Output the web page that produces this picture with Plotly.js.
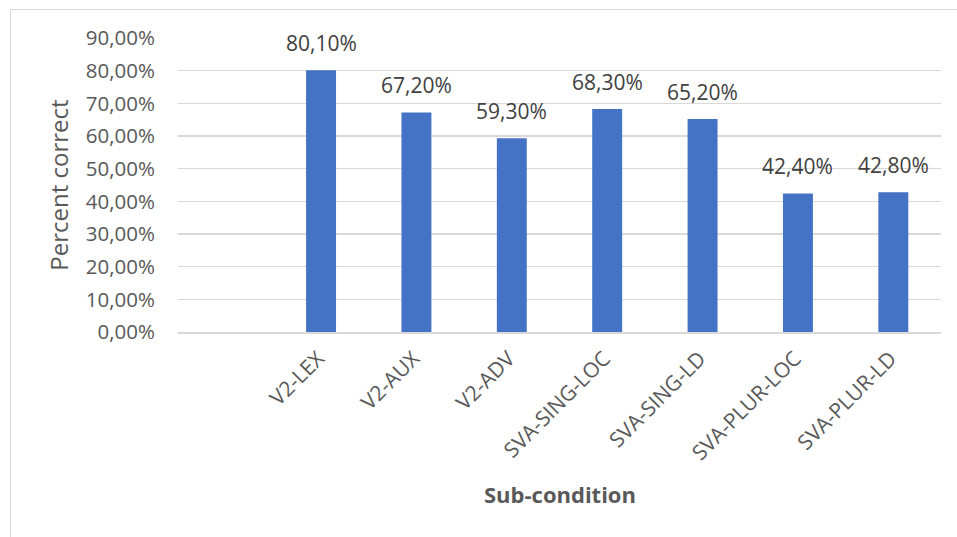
<!DOCTYPE html>
<html>
<head>
<meta charset="utf-8">
<script src="https://cdn.plot.ly/plotly-3.0.1.min.js"></script>
<style>
html,body{margin:0;padding:0;background:#fff;overflow:hidden;}
#frame{position:absolute;left:10px;top:9px;width:980px;height:560px;border:1.5px solid #d9d9d9;}
#chart{position:absolute;left:0;top:0;width:957px;height:537px;}
</style>
</head>
<body>
<div id="frame"></div>
<div id="chart"></div>
<script>
const categories = ["V2-LEX","V2-AUX","V2-ADV","SVA-SING-LOC","SVA-SING-LD","SVA-PLUR-LOC","SVA-PLUR-LD"];
const percentCorrect = [0.801,0.672,0.593,0.683,0.652,0.424,0.428];
const yTickVals = [0,0.1,0.2,0.3,0.4,0.5,0.6,0.7,0.8,0.9];
const labelText = percentCorrect.map(v => (v*100).toFixed(2).replace('.', ',') + '%');
const idx = categories.map((c,i)=>i);

const FONT = "Open Sans, Noto Sans, sans-serif";
const L=178, R=16, T=38, B=205, W=957, H=537;
const pw = W-L-R, ph = H-T-B;

const traces = [
  {type:'bar', x: idx, y: percentCorrect, marker:{color:'#4472C4'}, width:0.314, hoverinfo:'skip'}
];

const annotations = idx.map(i => ({
  x: i, y: percentCorrect[i], xref:'x', yref:'y', text: labelText[i],
  showarrow:false, xanchor:'center', yanchor:'bottom', yshift:11,
  font:{family:FONT, size:21, color:'#404040'}
}));
annotations.push({
  x: 0.5, y: (H-B-494)/ph, xref:'paper', yref:'paper', text:'<b>Sub-condition</b>', showarrow:false,
  xanchor:'center', yanchor:'middle',
  font:{family:FONT, size:22, color:'#595959'}
});

const layout = {
  width:W, height:H,
  margin:{l:L, r:R, t:T, b:B},
  paper_bgcolor:'rgba(0,0,0,0)', plot_bgcolor:'rgba(0,0,0,0)',
  showlegend:false,
  separators:',.',
  font:{family:FONT, size:20, color:'#595959'},
  xaxis:{range:[-1.5,6.5], tickmode:'array', tickvals: idx, ticktext: categories, tickangle:-45,
         showgrid:false, zeroline:false, ticks:'', ticklabelstandoff:4, ticklabelshift:-3,
         tickfont:{family:FONT, size:21, color:'#595959'},
         showline:true, linecolor:'#d9d9d9', linewidth:2, fixedrange:true},
  yaxis:{range:[0,0.9], tickmode:'array', tickvals:yTickVals, tickformat:'.2%',
         showgrid:true, gridcolor:'#d9d9d9', gridwidth:1.5, zeroline:false,
         ticks:'', ticklabelstandoff:22,
         tickfont:{family:FONT, size:20.5, color:'#595959'},
         title:{text:'Percent correct', font:{family:FONT, size:24, color:'#595959'}, standoff:10}},
  annotations: annotations,
  bargap:0.686
};

Plotly.newPlot('chart', traces, layout, {staticPlot:true, displayModeBar:false});
</script>
</body>
</html>
